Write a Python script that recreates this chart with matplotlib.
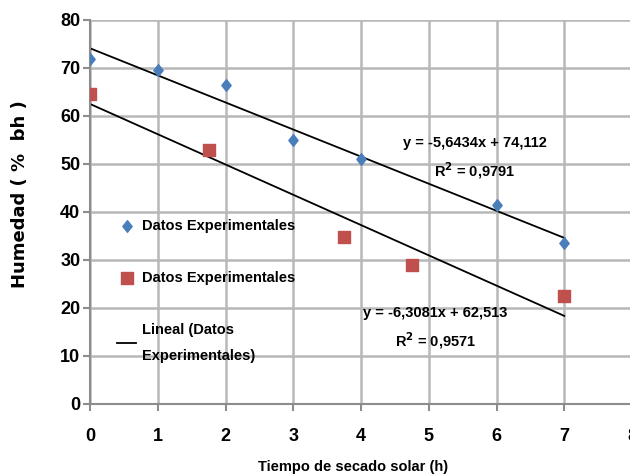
import matplotlib as mpl
mpl.use('Agg')
import matplotlib.pyplot as plt
from matplotlib.path import Path
import numpy as np

# data
hora_a = [0, 1, 2, 3, 4, 6, 7]
humedad_a = [71.8, 69.5, 66.5, 55.0, 51.0, 41.5, 33.5]
hora_b = [0, 1.75, 3.75, 4.75, 7]
humedad_b = [64.5, 53.0, 34.8, 29.0, 22.5]

# trendline coefficients (slope, intercept) from the labels
fit_a = (-5.6434, 74.112)
fit_b = (-6.3081, 62.513)
r2_a = '0,9791'
r2_b = '0,9571'

plt.rcParams['font.family'] = ['Liberation Sans', 'DejaVu Sans']
plt.rcParams['font.weight'] = 'bold'

fig = plt.figure(figsize=(6.3, 4.76), dpi=100)
ax = fig.add_axes([90/630, 1-404/476, 542/630, 384/476])

rombo = Path([(0, 1), (0.8, 0), (0, -1), (-0.8, 0), (0, 1)],
             [Path.MOVETO, Path.LINETO, Path.LINETO, Path.LINETO, Path.CLOSEPOLY])

ax.scatter(hora_a, humedad_a, marker=rombo, s=70, color='#4a7ebb', zorder=3,
           label='Datos Experimentales')
ax.scatter(hora_b, humedad_b, marker='s', s=85, color='#c0504d', zorder=3,
           label='Datos Experimentales')

xs = np.array([0, 7])
ax.plot(xs, fit_a[0]*xs + fit_a[1], color='black', lw=1.3,
        label='Lineal (Datos\nExperimentales)')
ax.plot(xs, fit_b[0]*xs + fit_b[1], color='black', lw=1.3)

ax.text(5.68, 54.4, 'y = -5,6434x + 74,112', ha='center', va='center', fontsize=10.5)
ax.text(5.68, 48.6, 'R$^2$ = ' + r2_a, ha='center', va='center', fontsize=10.5)
ax.text(5.1, 19.0, 'y = -6,3081x + 62,513', ha='center', va='center', fontsize=10.5)
ax.text(5.1, 13.3, 'R$^2$ = ' + r2_b, ha='center', va='center', fontsize=10.5)

ax.set_xlim(0, 8)
ax.set_ylim(0, 80)
ax.set_xticks(range(0, 9))
ax.set_yticks(range(0, 81, 10))
ax.grid(True, color='#b8b8b8', lw=1.8)
ax.set_axisbelow(True)
for s in ['top', 'right']:
    ax.spines[s].set_visible(False)
for s in ['left', 'bottom']:
    ax.spines[s].set_color('#8c8c8c')
    ax.spines[s].set_linewidth(1.5)
ax.tick_params(axis='both', colors='#8c8c8c', width=1.5, length=5,
               labelsize=13, labelcolor='black')
ax.tick_params(axis='x', pad=12)
ax.tick_params(axis='y', pad=2)

fig.text(20/630, 1-194/476, 'Humedad ( %  bh )', rotation=90, ha='center',
         va='center', fontsize=13, family='DejaVu Sans', weight='bold')
fig.text(353/630, 1-467/476, 'Tiempo de secado solar (h)', ha='center',
         va='center', fontsize=10.5)

leg = ax.legend(loc='upper left', bbox_to_anchor=(104/630, 1-206/476),
                bbox_transform=fig.transFigure, frameon=False, fontsize=10.5,
                labelspacing=2.6, handlelength=1.3, handletextpad=0.4)
leg.get_texts()[2].set_linespacing(2.1)

plt.savefig('out.png', dpi=100)
